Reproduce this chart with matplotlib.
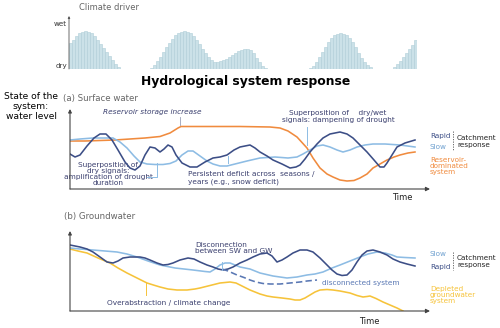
import numpy as np
import matplotlib
matplotlib.use("Agg")
from matplotlib import pyplot as plt

# ---- climate driver (wet/dry index per time step, 0 = gap) ----
rain = [26, 29, 33, 36, 37.5, 38, 37.5, 36, 33, 29, 25, 21, 17, 13, 9, 5, 2,
        0, 0, 0, 0, 0, 0, 0, 0, 0, 0,
        1, 4, 8, 12, 17, 22, 26, 30, 34, 36, 37.5, 38, 37.5, 36, 33, 29, 25, 20,
        16, 12, 9, 7, 7, 8, 9, 10.5, 12, 14, 16, 18, 19, 20, 20, 19, 16, 11, 7, 3, 1,
        0, 0, 0, 0, 0, 0, 0, 0, 0, 0, 0, 0, 0, 0,
        1, 3, 7, 12, 17, 22, 27, 31, 34, 35.5, 36, 35.5, 34, 31, 27, 22, 16, 11, 7, 4, 2,
        0, 0, 0, 0, 0, 0, 0,
        2, 5, 8, 12, 16, 20, 24, 29]

# ---- (a) surface water ----
t_res = [0, 15, 30, 45, 60, 75, 90, 100, 108, 111, 170, 200, 210, 218, 227, 237, 243, 250,
         257, 263, 270, 277, 284, 290, 297, 303, 310, 317, 324, 330, 338, 345]
v_res = [48, 48, 48.5, 49, 50, 51, 52.5, 56, 61, 62.5, 62.5, 62, 61, 58, 52, 41, 31, 21,
         15, 12, 9, 8, 8.5, 11, 15, 21, 25, 29, 32, 34, 36, 37]

t_rap_a = [0, 5, 10, 17, 24, 30, 36, 42, 48, 55, 60, 65, 70, 75, 80, 85, 90, 94, 98, 102,
           106, 112, 120, 127, 135, 143, 150, 157, 164, 170, 180, 185, 190, 197, 203, 212,
           220, 226, 230, 235, 240, 247, 253, 260, 270, 277, 283, 290, 297, 304, 310, 314,
           317, 322, 327, 335, 345]
v_rap_a = [35, 32, 34, 43, 51, 55, 55, 49, 39, 27, 21, 19, 23, 34, 42, 41, 37, 40, 44, 42,
           34, 26, 22, 22, 27, 31, 32, 34, 39, 42, 44, 41, 37, 33, 29, 25,
           21, 22, 24, 30, 37, 45, 51, 55, 57, 55, 51, 44, 37, 29, 22, 22,
           26, 34, 42, 46, 49]

t_slow_a = [0, 10, 23, 35, 43, 50, 57, 64, 70, 77, 85, 93, 100, 106, 112, 118, 123, 130,
            137, 143, 150, 157, 165, 177, 190, 205, 218, 227, 233, 240, 247, 253, 260, 267,
            273, 280, 287, 295, 303, 315, 330, 345]
v_slow_a = [49, 50, 51, 51, 51, 47, 41, 33, 27, 25, 24.5, 24.5, 25.5, 28, 34, 38, 38, 33,
            28, 25, 23, 23, 25, 28, 31, 32, 31, 32, 35, 39, 43, 44, 42, 39,
            37, 39, 42, 44, 45, 45, 44, 42]

# ---- (b) groundwater ----
t_rap_b = [0, 10, 17, 23, 30, 37, 43, 48, 53, 60, 70, 75, 80, 87, 93, 98, 103, 110, 118,
           124, 130, 137, 143, 148, 153, 158, 163, 170, 177, 183, 190, 197, 202, 207, 212,
           217, 223, 230, 237, 243, 250, 257, 262, 267, 272, 277, 282, 287, 292, 297, 303,
           310, 317, 323, 330, 337, 345]
v_rap_b = [66, 64, 62, 59, 54, 49, 48, 50, 53, 54, 54, 53, 51, 48, 46, 46.5, 48, 51, 53,
           52, 49, 46, 44, 42, 41, 42, 44, 48, 51, 54, 57, 58, 55, 49, 51,
           54, 58, 61, 61, 59, 53, 46, 41, 37, 35.5, 36, 41, 49, 56, 60, 61,
           59, 56, 52, 49, 47, 45]

t_slow_b = [0, 10, 23, 35, 47, 57, 67, 78, 90, 105, 123, 135, 140, 145, 150, 155, 160, 165,
            170, 180, 190, 203, 217, 227, 237, 245, 253, 262, 270, 280, 290, 298, 307, 315,
            322, 327, 335, 345]
v_slow_b = [63, 62, 61, 60, 59, 57, 54, 50, 46, 43, 41, 39.5, 39, 42, 46, 48, 48, 46,
            44, 42, 38, 35, 33, 34, 36, 37, 39, 43, 46, 50, 54, 57, 59, 58,
            56, 54, 53.5, 53]

t_disc = [152, 158, 167, 174, 180, 186, 193, 200, 210, 220, 230, 237, 247]
v_disc = [42, 40, 36, 33.5, 31, 29, 27.5, 27, 27, 28, 29, 30, 31]

t_dep = [0, 8, 17, 28, 40, 48, 57, 67, 77, 85, 90, 98, 107, 117, 125, 130, 140, 150, 160,
         166, 170, 175, 180, 185, 190, 197, 203, 212, 220, 225, 230, 235, 240, 245, 250,
         257, 263, 270, 280, 287, 293, 297, 300, 306, 313, 320, 327, 333]
v_dep = [62, 60, 58, 53, 48, 43, 38, 33, 28, 25.5, 24, 22, 21, 21, 22, 23, 25.5, 28, 29,
         28, 26, 23.5, 21, 19, 17, 15, 14, 13, 12, 11, 11, 13, 16, 19, 21,
         21.5, 21, 20, 18, 15.5, 14, 14.5, 15, 12.5, 9, 6, 3, 0]

DARK = '#3c4e86'
LIGHT = '#8dbce4'
ORANGE = '#f08b3e'
YELLOW = '#f6c33a'
TXT = '#3a3f6e'
GREY = '#666666'
AX = '#444444'
LW = 1.15
FS = 5.3
LS = 1.15

plt.rcParams['font.family'] = ['DejaVu Sans']
fig = plt.figure(figsize=(5, 3.28), dpi=100)

# background axes in pixel units for the labels
bg = fig.add_axes([0, 0, 1, 1])
bg.set_xlim(0, 500)
bg.set_ylim(328, 0)
bg.axis('off')


def yarrow(ax, scale=5):
    ax.annotate('', xy=(0, 1), xytext=(0, 0), xycoords='axes fraction',
                arrowprops=dict(arrowstyle='-|>', color=AX, lw=0.8,
                                mutation_scale=scale, shrinkA=0, shrinkB=0))


def xarrow(ax):
    ax.annotate('', xy=(1, 0), xytext=(0, 0), xycoords='axes fraction',
                arrowprops=dict(arrowstyle='-|>', color=AX, lw=0.8,
                                mutation_scale=6, shrinkA=0, shrinkB=0))


# climate driver bars
axc = fig.add_axes([69/500, 1-69/328, 348/500, 53/328])
axc.bar(np.arange(len(rain)), rain, width=1.0, color='#cbe1e8',
        edgecolor='#afcdd7', linewidth=0.4)
axc.set_xlim(-0.5, len(rain) - 0.5)
axc.set_ylim(0, 53)
axc.axis('off')
axc.annotate('', xy=(0, 1), xytext=(0, 0), xycoords='axes fraction',
             arrowprops=dict(arrowstyle='-|>', color='#555555', lw=0.6,
                             mutation_scale=3, shrinkA=0, shrinkB=0))

bg.text(79, 7, 'Climate driver', fontsize=6.0, color=GREY, va='center')
bg.text(67, 24, 'wet', fontsize=5.1, color='#333333', ha='right', va='center')
bg.text(67, 66, 'dry', fontsize=5.1, color='#333333', ha='right', va='center')
bg.text(246, 82, 'Hydrological system response', fontsize=8.9, fontweight='bold',
        ha='center', va='center')
bg.text(31, 106.5, 'State of the\nsystem:\nwater level', fontsize=6.6, ha='center',
        va='center', linespacing=1.08)

# (a) surface water
axa = fig.add_axes([70/500, 1-189/328, 360/500, 80/328])
axa.set_xlim(0, 360)
axa.set_ylim(0, 80)
axa.axis('off')
xarrow(axa)
yarrow(axa)
axa.plot(t_res, v_res, color=ORANGE, lw=LW)
axa.plot(t_slow_a, v_slow_a, color=LIGHT, lw=LW)
axa.plot(t_rap_a, v_rap_a, color=DARK, lw=LW)
axa.plot([110, 110], [64, 72], color='#9aa0b8', lw=0.6)
axa.plot([77, 87, 87], [12, 12, 26], color=LIGHT, lw=0.7)
axa.plot([158, 158], [26, 33], color=LIGHT, lw=0.7)
axa.plot([237, 237], [44, 62], color=LIGHT, lw=0.7)

bg.text(63, 98, '(a) Surface water', fontsize=6.2, color=GREY, va='center')
bg.text(152, 112, 'Reservoir storage increase', fontsize=FS, style='italic',
        color=TXT, ha='center', va='center')
bg.text(108, 174, 'Superposition of\ndry signals:\namplification of drought\nduration',
        fontsize=FS, color=TXT, ha='center', va='center', linespacing=1.05)
bg.text(188, 178, 'Persistent deficit across  seasons /\nyears (e.g., snow deficit)',
        fontsize=FS, color=TXT, ha='left', va='center', linespacing=LS)
bg.text(338, 116.5, 'Superposition of    dry/wet\nsignals: dampening of drought',
        fontsize=FS, color=TXT, ha='center', va='center', linespacing=LS)
bg.text(430, 136, 'Rapid', fontsize=5.2, color=DARK, va='center')
bg.text(430, 147, 'Slow', fontsize=5.2, color='#6fa0cf', va='center')
bg.plot([453, 453], [131, 151], color='#555555', lw=0.6, ls=(0, (1.5, 1.5)))
bg.text(457, 141.5, 'Catchment\nresponse', fontsize=5.2, color='#222222',
        va='center', linespacing=LS)
bg.text(430, 166, 'Reservoir-\ndominated\nsystem', fontsize=5.2, color=ORANGE,
        va='center', linespacing=1.05)
bg.text(402, 197, 'Time', fontsize=6.0, color='#222222', ha='center', va='center')

# (b) groundwater
axb = fig.add_axes([70/500, 1-311/328, 360/500, 80/328])
axb.set_xlim(0, 360)
axb.set_ylim(0, 80)
axb.axis('off')
xarrow(axb)
yarrow(axb)
axb.plot(t_dep, v_dep, color=YELLOW, lw=LW)
axb.plot(t_slow_b, v_slow_b, color=LIGHT, lw=LW)
axb.plot(t_rap_b, v_rap_b, color=DARK, lw=LW)
axb.plot(t_disc, v_disc, color='#5a78b4', lw=LW, ls=(0, (4, 2)))
axb.plot([152, 152], [41, 49], color=LIGHT, lw=0.7)
axb.plot([76, 76], [16, 28], color=YELLOW, lw=0.7)

bg.text(64, 217, '(b) Groundwater', fontsize=6.2, color=GREY, va='center')
bg.text(195, 248, 'Disconnection\nbetween SW and GW', fontsize=FS, color=TXT,
        va='center', linespacing=LS)
bg.text(169, 303, 'Overabstraction / climate change', fontsize=FS, color=TXT,
        ha='center', va='center')
bg.text(322, 283, 'disconnected system', fontsize=FS, color='#5a78b4', va='center')
bg.text(430, 254, 'Slow', fontsize=5.2, color='#6fa0cf', va='center')
bg.text(430, 267, 'Rapid', fontsize=5.2, color=DARK, va='center')
bg.plot([453, 453], [252, 270], color='#555555', lw=0.6, ls=(0, (1.5, 1.5)))
bg.text(457, 261.5, 'Catchment\nresponse', fontsize=5.2, color='#222222',
        va='center', linespacing=LS)
bg.text(430, 295, 'Depleted\ngroundwater\nsystem', fontsize=5.2, color=YELLOW,
        va='center', linespacing=1.05)
bg.text(369, 321, 'Time', fontsize=6.0, color='#222222', ha='center', va='center')

fig.savefig('out.png', dpi=100)
